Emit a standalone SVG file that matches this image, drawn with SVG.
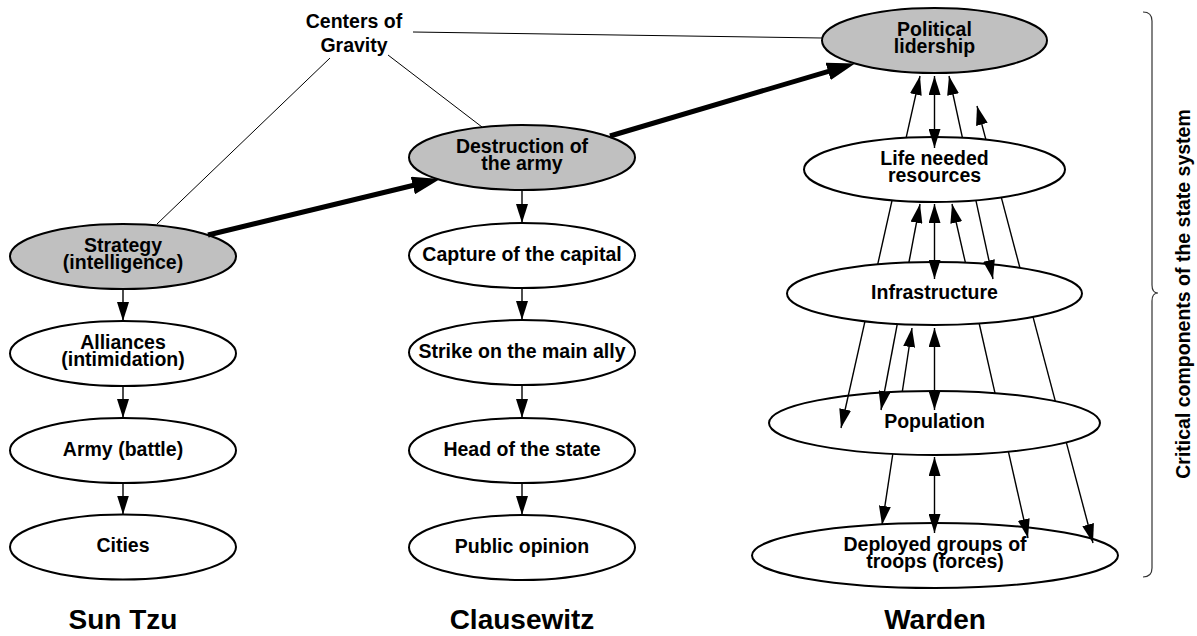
<svg xmlns="http://www.w3.org/2000/svg" width="1197" height="636" viewBox="0 0 1197 636">
<style>
.n{stroke:#000;stroke-width:2;fill:#fff}
.g{fill:#c0c0c0}
.t{font-family:"Liberation Sans",Arial,sans-serif;font-weight:bold;font-size:19.5px;text-anchor:middle;fill:#000}
.big{font-size:28px}
.c{stroke:#000;stroke-width:1.4;fill:none}
.s{stroke:#000;stroke-width:1.4;fill:none;marker-end:url(#ah)}
.d{stroke:#000;stroke-width:1.4;fill:none;marker-end:url(#ah);marker-start:url(#ah)}
.th{stroke:#000;stroke-width:5;fill:none;marker-end:url(#big)}
.thin{stroke:#000;stroke-width:1;fill:none}
</style>
<defs>
<marker id="ah" markerUnits="userSpaceOnUse" markerWidth="19" markerHeight="12" viewBox="0 0 19 12" refX="19" refY="6" orient="auto-start-reverse"><path d="M0,0L19,6L0,12z" fill="#000"/></marker>
<marker id="big" markerUnits="userSpaceOnUse" markerWidth="28" markerHeight="18" viewBox="0 0 28 18" refX="18" refY="9" orient="auto"><path d="M0,0L28,9L0,18z" fill="#000"/></marker>
</defs>
<rect width="1197" height="636" fill="#fff"/>

<g id="cog-label">
<text class="t" x="354" y="28">Centers of</text>
<text class="t" x="354" y="52">Gravity</text>
</g>

<g id="cog-lines">
<line class="thin" x1="330" y1="58" x2="157" y2="224"/>
<line class="thin" x1="388" y1="55" x2="482" y2="127"/>
<line class="thin" x1="413" y1="32" x2="822" y2="38"/>
</g>

<g id="sun-strategy"><ellipse class="n g" cx="123" cy="256.5" rx="113" ry="32.5"/><text class="t" x="123" y="252">Strategy</text><text class="t" x="123" y="269">(intelligence)</text></g>
<g id="sun-alliances"><ellipse class="n" cx="123" cy="353.5" rx="113" ry="32.5"/><text class="t" x="123" y="349">Alliances</text><text class="t" x="123" y="366">(intimidation)</text></g>
<g id="sun-army"><ellipse class="n" cx="123" cy="450.5" rx="113" ry="32.5"/><text class="t" x="123" y="455.5">Army (battle)</text></g>
<g id="sun-cities"><ellipse class="n" cx="123" cy="547" rx="113" ry="32.5"/><text class="t" x="123" y="552">Cities</text></g>

<g id="cl-destruction"><ellipse class="n g" cx="522" cy="157.5" rx="113" ry="32.5"/><text class="t" x="522" y="153">Destruction of</text><text class="t" x="522" y="170">the army</text></g>
<g id="cl-capture"><ellipse class="n" cx="522" cy="255.5" rx="113" ry="32.5"/><text class="t" x="522" y="260.5">Capture of the capital</text></g>
<g id="cl-strike"><ellipse class="n" cx="522" cy="352.5" rx="113" ry="32.5"/><text class="t" x="522" y="357.5">Strike on the main ally</text></g>
<g id="cl-head"><ellipse class="n" cx="522" cy="450.5" rx="113" ry="32.5"/><text class="t" x="522" y="455.5">Head of the state</text></g>
<g id="cl-public"><ellipse class="n" cx="522" cy="547.5" rx="113" ry="32.5"/><text class="t" x="522" y="552.5">Public opinion</text></g>

<g id="wa-political"><ellipse class="n g" cx="934.5" cy="40.5" rx="112.5" ry="32.5"/><text class="t" x="934.5" y="36">Political</text><text class="t" x="934.5" y="53">lidership</text></g>
<g id="wa-life"><ellipse class="n" cx="934.5" cy="169.5" rx="130.5" ry="32.5"/><text class="t" x="934.5" y="165">Life needed</text><text class="t" x="934.5" y="182">resources</text></g>
<g id="wa-infra"><ellipse class="n" cx="934.5" cy="293.5" rx="147.5" ry="31.5"/><text class="t" x="934.5" y="298.5">Infrastructure</text></g>
<g id="wa-population"><ellipse class="n" cx="934.5" cy="423" rx="165.5" ry="32"/><text class="t" x="934.5" y="428">Population</text></g>
<g id="wa-deployed"><ellipse class="n" cx="935" cy="555.5" rx="183" ry="32.5"/><text class="t" x="935" y="551">Deployed groups of</text><text class="t" x="935" y="568">troops (forces)</text></g>

<g id="connectors">
<line class="th" x1="208" y1="235" x2="430.3" y2="181.3"/>
<line class="th" x1="610" y1="136" x2="845.4" y2="66.3"/>

<line class="s" x1="123" y1="289" x2="123" y2="321"/>
<line class="s" x1="123" y1="386" x2="123" y2="418"/>
<line class="s" x1="123" y1="483" x2="123" y2="514.5"/>

<line class="s" x1="522" y1="190" x2="522" y2="223"/>
<line class="s" x1="522" y1="288" x2="522" y2="320"/>
<line class="s" x1="522" y1="385" x2="522" y2="418"/>
<line class="s" x1="522" y1="483" x2="522" y2="515"/>

<line class="s" x1="906.1" y1="137.8" x2="920" y2="76"/>
<line class="c" x1="892.1" y1="200.2" x2="877.7" y2="264.4"/>
<line class="s" x1="865" y1="321.2" x2="841" y2="428"/>
<line class="d" x1="934.5" y1="76" x2="934.5" y2="148"/>
<line class="s" x1="962.4" y1="137.7" x2="949" y2="76"/>
<line class="s" x1="975.9" y1="200.3" x2="993" y2="279"/>
<line class="s" x1="985.9" y1="139.6" x2="977" y2="106"/>
<line class="c" x1="1001.3" y1="197.4" x2="1019.9" y2="267.8"/>
<line class="c" x1="1033" y1="316.9" x2="1055.3" y2="401.1"/>
<line class="s" x1="1066.3" y1="442.4" x2="1093" y2="543"/>
<line class="s" x1="908.9" y1="262.5" x2="920" y2="204"/>
<line class="s" x1="897.3" y1="324" x2="881" y2="410"/>
<line class="d" x1="934.5" y1="204" x2="934.5" y2="279"/>
<line class="s" x1="965.4" y1="262.7" x2="952" y2="204"/>
<line class="c" x1="979.2" y1="323.5" x2="995" y2="393.1"/>
<line class="s" x1="1008.4" y1="451.7" x2="1028" y2="538"/>
<line class="s" x1="902.3" y1="391.6" x2="912" y2="328"/>
<line class="s" x1="892.8" y1="454" x2="882" y2="525"/>
<line class="d" x1="934.5" y1="328" x2="934.5" y2="410"/>
<line class="d" x1="934.5" y1="457" x2="934.5" y2="533"/>
</g>

<g id="brace">
<path d="M1143,12 Q1152,12 1152,21 L1152,285 Q1152,293 1158,293 Q1152,293 1152,301 L1152,568 Q1152,577 1143,577" stroke="#333" stroke-width="1.2" fill="none"/>
</g>

<g id="titles">
<text class="t big" x="123" y="629">Sun Tzu</text>
<text class="t big" x="522" y="629">Clausewitz</text>
<text class="t big" x="935" y="629">Warden</text>
<text class="t" transform="translate(1190,294) rotate(-90)">Critical components of the state system</text>
</g>
</svg>
